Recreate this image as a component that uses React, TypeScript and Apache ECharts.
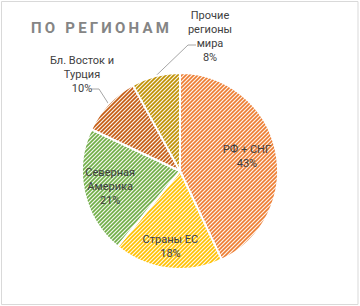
import React, { useEffect, useRef } from 'react';
import * as echarts from 'echarts';

const title = 'ПО РЕГИОНАМ';
const categories = ['РФ + СНГ', 'Страны ЕС', 'Северная Америка', 'Бл. Восток и Турция', 'Прочие регионы мира'];
const shares = [43, 18, 21, 10, 8];
const wrappedNames = ['РФ + СНГ', 'Страны ЕС', 'Северная\nАмерика', 'Бл. Восток и\nТурция', 'Прочие\nрегионы\nмира'];

const colors = ['#ED7D31', '#FFC000', '#70AD47', '#C55A11', '#BF9000'];
const CX = 180;
const CY = 171;
const R = 98;
// label placement (layout only)
const insideFrac = [0.7, 0.78, 0.73];
const outsideLayout: Record<number, { x: number; y: number; elbow: number[]; end: number[] }> = {
  3: { x: 82, y: 74, elbow: [99, 89], end: [91, 89] },
  4: { x: 210, y: 36, elbow: [188, 45], end: [196, 45] },
};

function midAngle(i: number): number {
  const total = shares.reduce((a, b) => a + b, 0);
  let acc = 0;
  for (let k = 0; k < i; k++) acc += shares[k];
  return ((acc + shares[i] / 2) / total) * Math.PI * 2;
}

function hatch(hex: string): HTMLCanvasElement {
  const n = 4;
  const c = document.createElement('canvas');
  c.width = n;
  c.height = n;
  const ctx = c.getContext('2d')!;
  const r = parseInt(hex.slice(1, 3), 16);
  const g = parseInt(hex.slice(3, 5), 16);
  const b = parseInt(hex.slice(5, 7), 16);
  const img = ctx.createImageData(n, n);
  const mix = [1, 0.7, 0.12, 0.7];
  for (let y = 0; y < n; y++) {
    for (let x = 0; x < n; x++) {
      const t = mix[(x + y) % n];
      const o = (y * n + x) * 4;
      img.data[o] = Math.round(255 + (r - 255) * t);
      img.data[o + 1] = Math.round(255 + (g - 255) * t);
      img.data[o + 2] = Math.round(255 + (b - 255) * t);
      img.data[o + 3] = 255;
    }
  }
  ctx.putImageData(img, 0, 0);
  return c;
}

export default function App() {
  const ref = useRef<HTMLDivElement>(null);
  useEffect(() => {
    document.body.style.margin = '0';
    const chart = echarts.init(ref.current!, null, { renderer: 'svg' });
    const data = categories.map((name, i) => ({
      name,
      value: shares[i],
      itemStyle: {
        color: { image: hatch(colors[i]), repeat: 'repeat' },
      },
      label: { position: i < 3 ? 'inside' : 'outside' },
      labelLine: { show: i >= 3 },
    }));
    chart.setOption({
      animation: false,
      graphic: [
        {
          type: 'rect',
          shape: { x: 1.5, y: 1.5, width: 356.5, height: 303 },
          style: { fill: 'none', stroke: '#D9D9D9', lineWidth: 1 },
        },
      ],
      series: [
        {
          type: 'pie',
          center: [CX, CY],
          radius: [0, R],
          startAngle: 90,
          clockwise: true,
          avoidLabelOverlap: false,
          itemStyle: { borderColor: '#fff', borderWidth: 2 },
          label: {
            formatter: (p: any) => `${wrappedNames[p.dataIndex]}\n${p.value}%`,
            fontFamily: 'Roboto',
            fontSize: 11,
            lineHeight: 14,
            color: '#404040',
            align: 'center',
          },
          labelLine: { lineStyle: { color: '#A6A6A6', width: 1 } },
          labelLayout: (params: any) => {
            const i = params.dataIndex;
            const a = midAngle(i);
            if (i < 3) {
              const rr = R * insideFrac[i];
              return {
                x: CX + rr * Math.sin(a),
                y: CY - rr * Math.cos(a),
                align: 'center',
                verticalAlign: 'middle',
              };
            }
            const o = outsideLayout[i];
            return {
              x: o.x,
              y: o.y,
              align: 'center',
              verticalAlign: 'middle',
              labelLinePoints: [
                [CX + R * Math.sin(a), CY - R * Math.cos(a)],
                o.elbow,
                o.end,
              ],
            };
          },
          data,
        },
      ],
    });
    return () => chart.dispose();
  }, []);
  return (
    <div style={{ position: 'relative', width: 360, height: 306, background: '#fff' }}>
      <div ref={ref} style={{ width: 360, height: 306 }} />
      <div
        style={{
          position: 'absolute',
          left: 31,
          top: 18,
          fontFamily: 'Roboto, sans-serif',
          fontWeight: 700,
          fontSize: 15,
          letterSpacing: '3.2px',
          color: '#858585',
          whiteSpace: 'nowrap',
          lineHeight: '20px',
        }}
      >
        {title}
      </div>
    </div>
  );
}
